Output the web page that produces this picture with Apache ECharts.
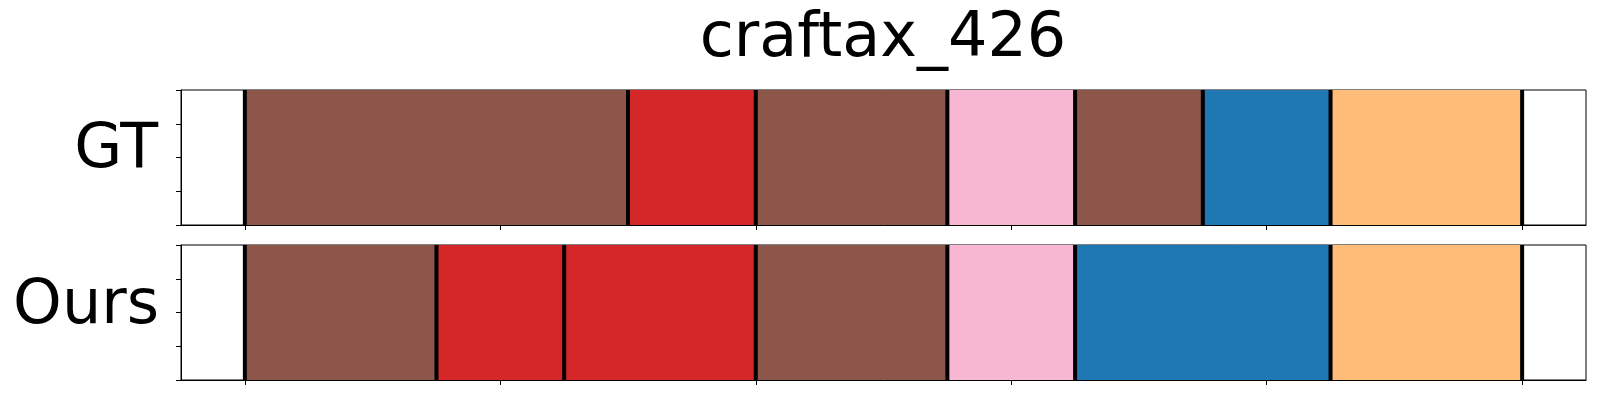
<!DOCTYPE html>
<html>
<head>
<meta charset="utf-8">
<script src="https://cdn.jsdelivr.net/npm/echarts@6/dist/echarts.min.js"></script>
<style>
  html, body { margin: 0; padding: 0; background: #fff; }
  #chart { width: 1600px; height: 400px; }
</style>
</head>
<body>
<div id="chart"></div>
<script>
// ---- data ----
const title = 'craftax_426';
const rowNames = ['GT', 'Ours'];
const xTicks = [0, 20, 40, 60, 80, 100];
const yTicks = [0, 0.25, 0.5, 0.75, 1];
// segment boundaries (time) and class index (tab20) per segment
const gtBounds = [0, 30, 40, 55, 65, 75, 85, 100];
const gtClasses = [10, 6, 10, 13, 10, 0, 3];
const oursBounds = [0, 15, 25, 40, 55, 65, 85, 100];
const oursClasses = [10, 6, 6, 10, 13, 0, 3];

// tab20 palette
const tab20 = ['#1f77b4', '#aec7e8', '#ff7f0e', '#ffbb78', '#2ca02c', '#98df8a',
  '#d62728', '#ff9896', '#9467bd', '#c5b0d5', '#8c564b', '#c49c94',
  '#e377c2', '#f7b6d2', '#7f7f7f', '#c7c7c7', '#bcbd22', '#dbdb8d',
  '#17becf', '#9edae5'];

function segData(bounds, classes) {
  const out = [];
  for (let i = 0; i < classes.length; i++) out.push([bounds[i], bounds[i + 1], classes[i]]);
  return out;
}

const chart = echarts.init(document.getElementById('chart'), null, { renderer: 'canvas' });

const grids = [
  { left: 181, top: 90, width: 1405, height: 135 },
  { left: 181, top: 245, width: 1405, height: 135 }
];

function xAxis(i) {
  return {
    type: 'value', gridIndex: i, min: -5, max: 105, position: 'bottom',
    axisLine: { show: true, onZero: false, lineStyle: { color: '#000', width: 1 } },
    axisTick: { show: true, customValues: xTicks, length: 5, inside: false, lineStyle: { color: '#000', width: 1 } },
    axisLabel: { show: false, customValues: xTicks },
    splitLine: { show: false }
  };
}
function yAxis(i) {
  return {
    type: 'value', gridIndex: i, min: yTicks[0], max: yTicks[yTicks.length - 1], interval: 0.25, position: 'left',
    axisLine: { show: true, onZero: false, lineStyle: { color: '#000', width: 1 } },
    axisTick: { show: true, length: 5, inside: false, lineStyle: { color: '#000', width: 1 } },
    axisLabel: { show: false },
    splitLine: { show: false }
  };
}

function segSeries(i, bounds, classes) {
  return {
    type: 'custom', xAxisIndex: i, yAxisIndex: i, z: 2,
    data: segData(bounds, classes),
    renderItem: function (params, api) {
      const a = api.coord([api.value(0), 1]);
      const b = api.coord([api.value(1), 0]);
      return {
        type: 'rect',
        shape: { x: a[0], y: a[1], width: b[0] - a[0], height: b[1] - a[1] },
        style: { fill: tab20[api.value(2)], stroke: null }
      };
    }
  };
}
function lineSeries(i, bounds) {
  return {
    type: 'custom', xAxisIndex: i, yAxisIndex: i, z: 3,
    data: bounds.map(v => [v]),
    renderItem: function (params, api) {
      const a = api.coord([api.value(0), 1]);
      const b = api.coord([api.value(0), 0]);
      return {
        type: 'line',
        shape: { x1: a[0], y1: a[1], x2: b[0], y2: b[1] },
        style: { stroke: '#000', lineWidth: 4 }
      };
    }
  };
}

const option = {
  backgroundColor: '#fff',
  animation: false,
  grid: grids.map(g => Object.assign({ show: true, borderColor: '#000', borderWidth: 1, backgroundColor: 'transparent' }, g)),
  xAxis: [xAxis(0), xAxis(1)],
  yAxis: [yAxis(0), yAxis(1)],
  series: [
    segSeries(0, gtBounds, gtClasses), lineSeries(0, gtBounds),
    segSeries(1, oursBounds, oursClasses), lineSeries(1, oursBounds)
  ],
  graphic: [
    { type: 'text', x: 883, y: 40, style: { text: title, font: '62px "DejaVu Sans"', fill: '#000', textAlign: 'center', textVerticalAlign: 'middle' } },
    { type: 'text', x: 158, y: 151, style: { text: rowNames[0], font: '62px "DejaVu Sans"', fill: '#000', textAlign: 'right', textVerticalAlign: 'middle' } },
    { type: 'text', x: 159, y: 307, style: { text: rowNames[1], font: '62px "DejaVu Sans"', fill: '#000', textAlign: 'right', textVerticalAlign: 'middle' } }
  ]
};
chart.setOption(option);
</script>
</body>
</html>
